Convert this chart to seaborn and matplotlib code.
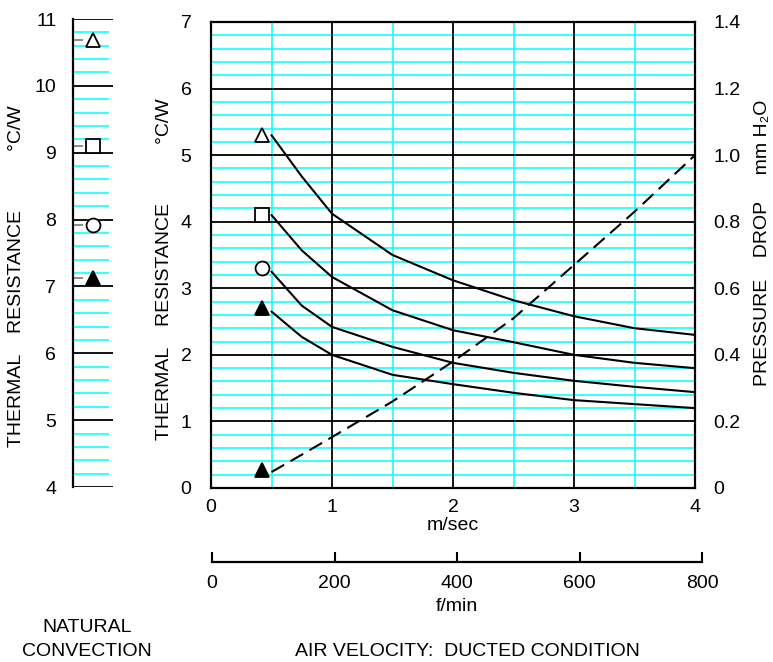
import matplotlib
matplotlib.use("Agg")
import matplotlib.pyplot as plt
import numpy as np
import pandas as pd
import seaborn as sns

# ---------------- data ----------------
velocity_ms = [0.5, 0.75, 1.0, 1.5, 2.0, 2.5, 3.0, 3.5, 4.0]
r_open_triangle = [5.3, 4.68, 4.12, 3.50, 3.12, 2.82, 2.58, 2.40, 2.30]
r_open_square = [4.1, 3.57, 3.17, 2.67, 2.37, 2.19, 2.00, 1.88, 1.80]
r_open_circle = [3.25, 2.74, 2.42, 2.12, 1.88, 1.73, 1.61, 1.52, 1.44]
r_filled_triangle = [2.65, 2.27, 2.00, 1.70, 1.56, 1.43, 1.32, 1.26, 1.20]
pressure_drop = [0.048, 0.10, 0.153, 0.26, 0.38, 0.51, 0.67, 0.83, 1.0]

# marker symbols in front of each curve (at 0.42 m/s)
marker_x = 0.42
marker_y_main = [5.3, 4.1, 3.3, 2.7]
marker_pressure_y = 0.054  # on the right axis scale
marker_kinds = ["open_triangle", "open_square", "open_circle", "filled_triangle"]

# natural convection values
natural_conv = [10.68, 9.1, 7.92, 7.12]

main_yticks = [0, 1, 2, 3, 4, 5, 6, 7]
main_xticks = [0, 1, 2, 3, 4]
minor_x = [0.5, 1.5, 2.5, 3.5]
right_yticks = [0, 0.2, 0.4, 0.6, 0.8, 1.0, 1.2, 1.4]
right_ytick_labels = ["0", "0.2", "0.4", "0.6", "0.8", "1.0", "1.2", "1.4"]
left_yticks = [4, 5, 6, 7, 8, 9, 10, 11]
fmin_ticks = [0, 200, 400, 600, 800]

# ---------------- style ----------------
sns.set_style("white")
plt.rcParams["font.family"] = ["Liberation Sans", "DejaVu Sans"]
plt.rcParams["font.size"] = 14
plt.rcParams["text.color"] = "black"
plt.rcParams["axes.labelcolor"] = "black"
plt.rcParams["xtick.color"] = "black"
plt.rcParams["ytick.color"] = "black"

CYAN = "#00FFFF"
BLACK = "#000000"
MS = 10

marker_style = {
    "open_triangle": dict(marker="^", mfc="white", mec=BLACK),
    "open_square": dict(marker="s", mfc="white", mec=BLACK),
    "open_circle": dict(marker="o", mfc="white", mec=BLACK),
    "filled_triangle": dict(marker="^", mfc=BLACK, mec=BLACK),
}

W, H = 773, 662
fig = plt.figure(figsize=(W / 100, H / 100), dpi=100)


def fx(px):
    return px / W


def fy(py):
    return 1 - py / H


def minor_values(lo, hi, step):
    vals = np.arange(lo, hi + 1e-9, step)
    return [v for v in vals if abs(v - round(v)) > 1e-6]


# ---------------- main axes ----------------
ax = fig.add_axes([fx(211), fy(488), fx(695) - fx(211), fy(22) - fy(488)])
ax.set_xlim(0, 4)
ax.set_ylim(0, 7)
ax.set_xticks(main_xticks)
ax.set_yticks(main_yticks)
ax.grid(False)
ax.hlines(minor_values(0, 7, 0.2), 0, 4, color=CYAN, lw=1.1, zorder=0.5)
ax.vlines(minor_x, 0, 7, color=CYAN, lw=1.1, zorder=0.5)
ax.hlines(main_yticks, 0, 4, color=BLACK, lw=1.3, zorder=1)
ax.vlines(main_xticks, 0, 7, color=BLACK, lw=1.3, zorder=1)
ax.tick_params(which="both", length=0)
ax.tick_params(axis="y", pad=14)
ax.tick_params(axis="x", pad=8)
for s in ax.spines.values():
    s.set_color(BLACK)
    s.set_linewidth(1.6)

df = pd.DataFrame({
    "v": velocity_ms * 4,
    "R": r_open_triangle + r_open_square + r_open_circle + r_filled_triangle,
    "series": sum([[k] * len(velocity_ms) for k in marker_kinds], []),
})
sns.lineplot(data=df, x="v", y="R", units="series", estimator=None,
             color=BLACK, lw=1.5, ax=ax, zorder=3)

for kind, yv in zip(marker_kinds, marker_y_main):
    ax.plot([marker_x], [yv], ls="none", ms=MS, mew=1.3, zorder=4,
            **marker_style[kind])

ax.set_xlabel("m/sec", labelpad=1)
ax.set_ylabel("THERMAL    RESISTANCE           \u00b0C/W")
ax.yaxis.set_label_coords(-0.078, 0.47)

# right axis
ax2 = ax.twinx()
ax2.set_ylim(0, 1.4)
ax2.set_yticks(right_yticks)
ax2.set_yticklabels(right_ytick_labels)
ax2.tick_params(length=0, pad=13)
ax2.grid(False)
for s in ax2.spines.values():
    s.set_visible(False)
sns.lineplot(x=velocity_ms, y=pressure_drop, color=BLACK, lw=1.5, ax=ax2,
             zorder=3)
ax2.lines[-1].set_dashes((7, 3.5))
ax2.plot([marker_x], [marker_pressure_y], ls="none", ms=MS, mew=1.3,
         **marker_style["filled_triangle"])
ax2.set_ylabel("PRESSURE    DROP     mm H\u2082O")
ax2.yaxis.set_label_coords(1.122, 0.526)

# ---------------- natural convection strip ----------------
axn = fig.add_axes([fx(73), fy(487), fx(113) - fx(73), fy(19) - fy(487)])
axn.set_xlim(0, 1)
axn.set_ylim(4, 11)
axn.set_xticks([])
axn.set_yticks(left_yticks)
axn.grid(False)
axn.tick_params(length=0, pad=12)
for k, s in axn.spines.items():
    s.set_visible(k == "left")
axn.spines["left"].set_linewidth(1.6)
axn.spines["left"].set_color(BLACK)
axn.hlines(minor_values(4, 11, 0.2), 0, 0.9, color=CYAN, lw=1.1, zorder=0)
axn.hlines(left_yticks, 0, 1, color=BLACK, lw=1.3, zorder=1)
axn.hlines(natural_conv, 0, 0.25, color="#777777", lw=1.2, zorder=2)
for kind, yv in zip(marker_kinds, natural_conv):
    axn.plot([0.5], [yv], ls="none", ms=MS, mew=1.3, zorder=4,
             **marker_style[kind])
axn.set_ylabel("THERMAL    RESISTANCE           \u00b0C/W")
axn.yaxis.set_label_coords(-1.2, 0.45)

# ---------------- f/min axis ----------------
axf = fig.add_axes([fx(212), fy(562), fx(702) - fx(212), 0.0001])
axf.set_xlim(0, 800)
axf.set_xticks(fmin_ticks)
axf.set_yticks([])
axf.grid(False)
for k, s in axf.spines.items():
    s.set_visible(k == "bottom")
axf.spines["bottom"].set_linewidth(1.6)
axf.spines["bottom"].set_color(BLACK)
axf.tick_params(axis="x", bottom=True, direction="in", length=7, width=1.5,
                pad=9)
axf.patch.set_alpha(0)
axf.set_xlabel("f/min", labelpad=5)

# ---------------- captions ----------------
fig.text(fx(467), fy(651), "AIR VELOCITY:  DUCTED CONDITION",
         ha="center", va="center")
fig.text(fx(87), fy(627), "NATURAL", ha="center", va="center")
fig.text(fx(87), fy(651), "CONVECTION", ha="center", va="center")

fig.savefig("out.png", dpi=100, facecolor="white")
